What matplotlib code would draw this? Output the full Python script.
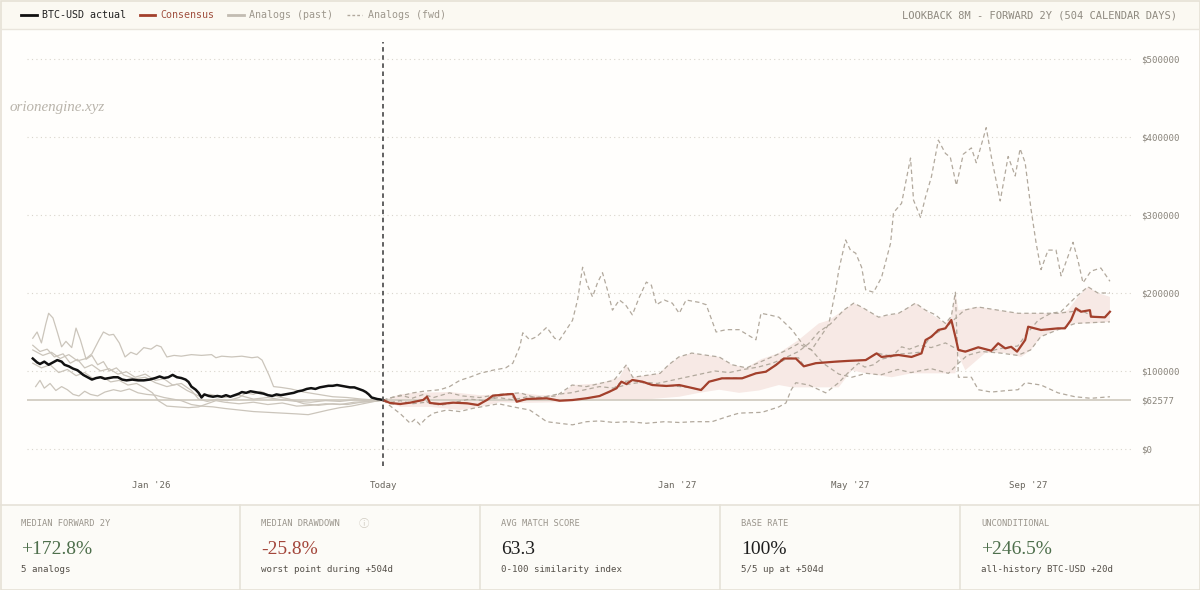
import numpy as np
import matplotlib.pyplot as plt
from matplotlib.lines import Line2D
from matplotlib.patches import Rectangle

# x = days relative to "Today" (11 Jun 2026), y = price in $ thousands
base_px = 62.577

actual_day = [-243, -240, -238, -235, -232, -229, -226, -223, -221, -218, -215, -212, -210, -208, -205,
              -202, -199, -196, -193, -190, -187, -184, -181, -178, -174, -170, -166, -162, -158, -155,
              -152, -149, -146, -143, -140, -137, -135, -133, -130, -128, -126, -124, -121, -118, -115,
              -112, -109, -106, -103, -100, -98, -95, -92, -89, -86, -83, -80, -77, -74, -71, -68, -65,
              -62, -59, -56, -53, -50, -47, -44, -41, -38, -35, -32, -29, -26, -23, -20, -17, -14, -12,
              -10, -8, -6, -4, -2, 0]
actual_px = [116, 111, 109, 112, 108, 111, 114, 112, 108, 106, 103, 101, 98, 95, 92,
             89, 91, 92, 90, 91, 92, 92, 89, 88, 89, 88, 88, 89, 91, 93,
             91, 92, 95, 92, 91, 89, 86, 80, 76, 72, 66, 70, 68, 67, 68,
             67, 69, 67, 69, 71, 73, 72, 74, 73, 72, 71, 69, 68, 70, 69, 70, 71,
             72, 74, 75, 77, 78, 77, 79, 80, 81, 81, 82, 81, 80, 79, 79, 77, 75, 73,
             70, 66, 65, 64, 63.5, 62.577]

past1_day = [-243, -236, -230, -224, -218, -212, -206, -202, -197, -194, -190, -187, -183, -179, -175,
             -171, -166, -161, -157, -154, -150, -145, -140, -133, -126, -119, -116, -112, -105, -98,
             -91, -87, -84, -79, -76, -71, -64, -55, -45, -35, -25, -15, -7, 0]
past1_px = [127, 120, 124, 116, 121, 113, 116, 122, 140, 150, 146, 147, 136, 118, 124,
            121, 130, 128, 133, 131, 118, 120, 119, 121, 120, 121, 117, 119, 118, 119,
            117, 118, 114, 94, 80, 79, 77, 73, 70, 67, 66, 64, 63, 62.577]

past2_day = [-243, -240, -237, -234, -232, -229, -226, -223, -220, -216, -213, -210, -206, -202, -198,
             -194, -190, -185, -180, -172, -165, -158, -150, -143, -136, -128, -120, -110, -100, -90,
             -80, -70, -60, -50, -40, -30, -20, -10, 0]
past2_px = [142, 150, 136, 160, 174, 168, 150, 131, 138, 130, 155, 140, 115, 120, 108,
            112, 100, 104, 95, 90, 92, 85, 80, 83, 75, 68, 70, 66, 69, 64,
            66, 63, 61, 60, 62, 61, 63, 62, 62.577]

past3_day = [-243, -238, -233, -228, -222, -217, -212, -207, -202, -196, -190, -184, -178, -172, -165,
             -158, -152, -146, -140, -133, -128, -122, -115, -108, -100, -95, -90, -85, -80, -73,
             -65, -55, -45, -35, -25, -15, -7, 0]
past3_px = [133, 125, 128, 118, 122, 110, 115, 104, 108, 100, 103, 96, 99, 92, 96,
            88, 90, 82, 84, 75, 64, 61, 64, 62, 66, 72, 70, 74, 70, 67,
            64, 58, 56, 58, 57, 60, 61, 62.577]

past4_day = [-241, -238, -235, -231, -227, -223, -219, -215, -211, -207, -203, -198, -193, -187, -182,
             -176, -170, -164, -158, -152, -146, -140, -133, -126, -118, -110, -100, -90, -80, -70,
             -60, -52, -45, -38, -30, -22, -14, -6, 0]
past4_px = [80, 88, 78, 84, 75, 80, 76, 70, 68, 74, 70, 68, 73, 76, 74,
            77, 72, 70, 69, 66, 64, 62, 57, 55, 54, 52, 50, 48, 47, 46,
            45, 44, 47, 50, 53, 55, 58, 61, 62.577]

past5_day = [-243, -237, -231, -225, -219, -213, -207, -201, -195, -189, -183, -177, -171, -165, -160,
             -156, -150, -143, -135, -128, -122, -116, -110, -100, -90, -80, -70, -60, -50, -40,
             -30, -20, -10, 0]
past5_px = [110, 104, 108, 98, 102, 94, 98, 90, 93, 86, 88, 82, 84, 78, 72,
            62, 55, 54, 53, 54, 58, 62, 60, 58, 60, 57, 59, 55, 56, 58,
            57, 60, 61, 62.577]

fwd1_day = [0, 6, 12, 20, 28, 35, 46, 55, 67, 80, 95, 105, 120, 131, 141, 150, 160, 168.7, 173, 185,
            192, 198, 205, 214, 225, 233, 242, 252, 262, 272, 280, 288, 297, 305.5, 309, 313.8, 316,
            320.7, 324, 327.7, 331.8, 334.6, 340.1, 345.6, 351.9, 353.9, 359.5, 365.7, 367.8, 372.6,
            376.1, 380.2, 385, 389.9, 393.3, 397.5, 402.3, 407.9, 411.3, 418.2, 421.7, 427.9, 433.4,
            438.3, 441.7, 445.2, 449.3, 452.8, 456.2, 461.1, 466.6, 470.1, 478.4, 481.8, 485.3, 490.8,
            497.7, 504]
fwd1_px = [62.577, 66, 69, 65, 70, 66, 72, 68, 66, 70, 72, 66, 68, 82, 80, 84, 88, 108, 92, 95,
           97, 108, 118, 123, 120, 118, 108, 104, 112, 120, 127, 135, 127, 150, 160, 204, 230,
           268, 255, 251, 233, 204, 201, 220, 264, 303, 315, 373, 319, 297,
           323, 349, 396, 379, 374, 338, 378, 386, 367, 412, 375, 318, 375,
           350, 385, 367, 307, 264, 230, 255, 255, 222, 265, 242, 213, 228,
           232, 215]

fwd2_day = [0, 6, 12, 20.7, 28, 39.4, 46, 53.2, 60, 67.1, 76, 85, 89.9, 94.7, 96.8, 101.6, 106.5, 113.4,
            118.9, 122.4, 131.3, 134.8, 138.3, 141.7, 145.2, 148.6, 152.1, 155.5, 159, 163.8, 168,
            172.8, 177.7, 182.5, 186, 189.5, 194.9, 200.5, 205.3, 210.1, 219.1, 224, 230.9, 237.8,
            246.8, 258.5, 262, 267.5, 274.4, 283.4, 290.3, 297, 305, 316, 325, 335, 345, 357, 366,
            380, 392, 399, 405, 415, 428, 440, 449, 456, 468, 480, 491, 504]
fwd2_px = [62.577, 66, 68, 72, 74, 76, 80, 88, 92, 97, 101, 104, 110, 131, 149, 140, 144, 156,
           142, 140, 165, 191, 233, 210, 195, 213, 226, 204, 178, 191, 185,
           172, 195, 214, 210, 185, 191, 187, 174, 191, 188, 185, 150, 153,
           153, 140, 174, 172, 169, 153, 136, 127, 110, 96, 92, 97, 95, 102, 98,
           103, 97, 110, 120, 125, 123, 120, 127, 144, 153, 161, 162, 163]

fwd3_day = [0, 5, 12, 18.7, 22, 25.6, 30, 35, 44.2, 53, 62, 71, 80, 90, 101.6, 108, 113.4, 122, 131.3,
            141, 150, 160, 170, 182.5, 195, 205.3, 215, 228, 237.8, 246.8, 262.7, 274.4, 279.3, 283,
            286.2, 295.2, 306.9, 315.9, 322, 329.7, 334, 340, 345, 352.6, 359.5, 365, 372, 380, 389.9,
            398, 405, 412.7, 421.7, 431, 440, 447.3, 454.2, 463, 470, 480.4, 488.7, 495.6, 504]
fwd3_px = [62.577, 55, 45, 33, 38, 31, 40, 46, 50, 48, 52, 55, 58, 54, 50, 42, 35, 33, 31,
           35, 36, 34, 35, 33, 35, 34, 35, 35, 41, 46, 47, 54, 59, 76,
           85, 82, 72, 85, 97, 110, 105, 108, 115, 118, 131, 128, 133, 130, 136,
           128, 125, 130, 126, 130, 132, 150, 165, 174, 176, 195, 208, 200, 200]

fwd4_day = [0, 6, 12, 20, 30, 40, 50, 60, 70, 80, 90, 100, 110, 120, 130, 140, 150, 160, 170, 180,
            190, 200, 210, 220, 230, 240, 250, 260, 270, 280, 288, 295, 302, 310, 319.4, 326.3, 331.8,
            343.6, 350, 357.4, 363, 369.1, 376.1, 383, 389.9, 394, 396.8, 398.9, 407.9, 412.7, 421.7,
            433, 440.3, 445.2, 456.2, 468, 479.7, 490.8, 504]
fwd4_px = [62.577, 60, 62, 58, 60, 56, 60, 64, 62, 66, 63, 67, 66, 70, 72, 76, 80, 78, 83, 86,
           84, 88, 92, 96, 100, 98, 102, 105, 110, 118, 125, 135, 150, 160, 178, 187, 182,
           169, 172, 174, 180, 187, 178, 172, 161, 170, 201, 92, 92, 76, 73,
           75, 76, 85, 82, 72, 67, 65, 67]

fwd5_day = [0, 5, 12, 18, 28, 33, 40, 50, 60, 66, 72, 80, 88, 93, 100, 113, 122, 132, 141, 150,
            157, 165, 173, 187, 200, 212, 220, 226, 235, 249, 258, 266, 272, 280, 288, 292, 300,
            314, 323, 335, 342, 350, 360, 372, 380, 390, 396, 403, 412.7, 426.5, 440.3, 454.2, 468,
            477, 484, 492, 500, 504]
fwd5_px = [62.577, 58, 57, 60, 63, 58, 57, 59, 58, 56, 63, 68, 70, 61, 64, 65, 62, 63, 65, 68,
           73, 86, 88, 82, 81, 79, 76, 86, 91, 91, 97, 99, 108, 116, 117, 106, 110,
           112, 113, 114, 123, 120, 122, 124, 145, 155, 166, 178, 182, 178, 174, 174, 174,
           176, 178, 170, 169, 176]

cons_day = [0, 4.8, 11.8, 18.7, 27.7, 30.4, 32.5, 39.4, 48.4, 58.1, 65.7, 71.9, 76, 85.7, 89.9, 92.6,
            99.5, 113.4, 122.4, 131.3, 141, 150, 156.9, 161.8, 165.2, 168.7, 172.8, 179.8, 186.7,
            196.3, 205.3, 212.2, 220.5, 226, 235, 248.9, 258.5, 265.4, 272.4, 277.9, 286.2, 291.7,
            300, 313.8, 322.8, 334.6, 342.2, 345.6, 357.4, 366.4, 373.3, 376.1, 380.2, 385, 389.9,
            394, 396.8, 398.9, 403.7, 412.7, 421.7, 426.5, 431.4, 435.5, 439.6, 445.2, 447.3, 456.2,
            468, 472.8, 477, 480.4, 483.9, 490.1, 490.8, 500.5, 504]
cons_px = [62.577, 59, 57.7, 59.4, 62.8, 67, 59, 57.7, 59.4, 58.6, 56.4, 62.8, 68.3, 70.1, 70.5, 60.6,
           64.1, 65, 61.9, 62.8, 65, 67.9, 73.5, 77.8, 86.3, 83.3, 88.5, 86.3, 82,
           80.8, 82, 79.1, 75.6, 86.3, 90.6, 90.6, 97, 99.1, 107.7, 116, 116, 106,
           110, 112, 113, 114, 122.6, 118, 120.5, 118, 122.6, 139.7, 144, 152.6, 154.7,
           165.4, 144, 127, 124.8, 130.4, 126, 135.5, 129, 131, 124.8, 139.7, 156.8, 152.6,
           154.7, 154.7, 165.4, 180.4, 176, 178, 169.6, 168.8, 176]

band_hi_day = [0, 11.8, 20.7, 46.3, 67.1, 80.9, 94.7, 108.5, 122.4, 131.3, 150, 163.8, 168.7, 172.8,
               191.5, 198, 205.3, 214.3, 233, 242, 251.6, 262, 274.4, 288.3, 302.1, 309, 319.4, 326.3,
               331.8, 343.6, 357.4, 369.1, 376.1, 389.9, 394, 396.8, 398.9, 412.7, 426.5, 440.3, 454.2,
               468, 474.9, 481.8, 488.7, 495.6, 504]
band_hi_px = [62.577, 70, 72, 73, 69, 70, 72, 69, 69, 82, 84, 92, 108, 92,
              97, 108, 118, 123, 118, 108, 104, 115, 123, 140, 161, 165, 178, 187,
              182, 169, 174, 187, 178, 161, 170, 201, 178, 182, 178, 174, 174,
              174, 178, 195, 208, 200, 195]

band_lo_day = [0, 11.8, 32.5, 53.2, 67.1, 80.9, 94.7, 122.4, 150, 177.7, 205.3, 219.1, 233, 246.8,
               260.6, 274.4, 283.4, 315.9, 324.9, 334.6, 352.6, 366.4, 392, 396.8, 398.9, 403.7,
               417.5, 431.4, 442.4, 449.3, 456.2, 468, 479.7, 490.8, 504]
band_lo_px = [62.577, 54, 54, 50, 53.8, 60, 59, 60, 62.8, 62.8, 67, 72, 76, 72,
              75, 82, 79, 79, 101, 97, 92, 97, 97, 97, 120, 101,
              123, 123, 118, 127, 144, 153, 161, 161, 163]

y_ticks = [0, 62.577, 100, 200, 300, 400, 500]
y_labels = ['$0', '$62577', '$100000', '$200000', '$300000', '$400000', '$500000']
x_ticks = [-161, 0, 204, 324, 447]
x_labels = ["Jan '26", 'Today', "Jan '27", "May '27", "Sep '27"]

stat_titles = ['MEDIAN FORWARD 2Y', 'MEDIAN DRAWDOWN', 'AVG MATCH SCORE', 'BASE RATE', 'UNCONDITIONAL']
stat_values = ['+172.8%', '-25.8%', '63.3', '100%', '+246.5%']
stat_notes = ['5 analogs', 'worst point during +504d', '0-100 similarity index',
              '5/5 up at +504d', 'all-history BTC-USD +20d']
stat_colors = ['#4e6f4c', '#a3463b', '#1e1e1e', '#1e1e1e', '#4e6f4c']

MONO = 'DejaVu Sans Mono'
SERIF = 'Liberation Serif'
C_RED = '#a3402c'
C_PAST = '#cbc5bb'
C_FWD = '#b2a99d'

W, H = 1200, 590
fig = plt.figure(figsize=(12, 5.9), dpi=100)
fig.patch.set_facecolor('#fffefc')

# header and stats panel backgrounds
fig.add_artist(Rectangle((0, 1 - 29 / H), 1, 29 / H, transform=fig.transFigure,
                         facecolor='#fbf9f2', edgecolor='none', zorder=0))
fig.add_artist(Line2D([0, 1], [1 - 29 / H] * 2, transform=fig.transFigure, color='#e9e5dc', lw=1))
fig.add_artist(Rectangle((0, 0), 1, 85 / H, transform=fig.transFigure,
                         facecolor='#fcfbf7', edgecolor='none', zorder=0))
fig.add_artist(Line2D([0, 1], [85 / H] * 2, transform=fig.transFigure, color='#e6e2d8', lw=1.2))
for i in range(1, 5):
    fig.add_artist(Line2D([i * 240 / W] * 2, [0, 85 / H], transform=fig.transFigure,
                          color='#e6e2d8', lw=1.2))
fig.add_artist(Rectangle((0.5 / W, 0.5 / H), 1 - 1 / W, 1 - 1 / H, transform=fig.transFigure,
                         facecolor='none', edgecolor='#e6e1d6', lw=1.2))

ax = fig.add_axes([27 / W, (590 - 466) / H, (1131 - 27) / W, (466 - 42) / H])
ax.set_facecolor('none')
ax.set_xlim(-247, 518.6)
ax.set_ylim(-21.8, 521.8)

for v in [0, 100, 200, 300, 400, 500]:
    ax.axhline(v, color='#d9d5cc', lw=0.8, ls=(0, (1, 3)), zorder=1)

band_x = np.concatenate([band_hi_day, band_lo_day[::-1]])
band_y = np.concatenate([band_hi_px, band_lo_px[::-1]])
ax.fill(band_x, band_y, color='#f7e9e5', lw=0, zorder=2)
ax.axhline(base_px, color='#d2cdc2', lw=1.3, zorder=3)

for d, p in [(past1_day, past1_px), (past2_day, past2_px), (past3_day, past3_px),
             (past4_day, past4_px), (past5_day, past5_px)]:
    ax.plot(d, p, color=C_PAST, lw=0.9, zorder=4)
for d, p in [(fwd1_day, fwd1_px), (fwd2_day, fwd2_px), (fwd3_day, fwd3_px),
             (fwd4_day, fwd4_px), (fwd5_day, fwd5_px)]:
    ax.plot(d, p, color=C_FWD, lw=0.9, ls=(0, (3.5, 2.5)), zorder=5)

ax.plot(actual_day, actual_px, color='#111111', lw=1.8, zorder=6)
ax.plot(cons_day, cons_px, color=C_RED, lw=1.6, zorder=7)
ax.axvline(0, color='#555555', lw=1.3, ls=(0, (2.5, 2)), zorder=8)

for s in ax.spines.values():
    s.set_visible(False)
ax.yaxis.tick_right()
ax.set_yticks(y_ticks)
ax.set_yticklabels(y_labels)
ax.set_xticks(x_ticks)
ax.set_xticklabels(x_labels)
ax.tick_params(axis='y', length=0, pad=7, labelsize=6.6, labelcolor='#8a857c')
ax.tick_params(axis='x', length=0, pad=11, labelsize=6.6, labelcolor='#6b675f')
for lab in ax.get_xticklabels() + ax.get_yticklabels():
    lab.set_family(MONO)

fig.text(10 / W, 1 - 108 / H, 'orionengine.xyz', family=SERIF, style='italic',
         fontsize=10.8, color='#b9b4ab', va='center')

# legend in header
handles = [Line2D([], [], color='#111111', lw=2),
           Line2D([], [], color=C_RED, lw=2),
           Line2D([], [], color='#c2bcb2', lw=2),
           Line2D([], [], color=C_FWD, lw=1, ls=(0, (2, 1.5)))]
leg = fig.legend(handles, ['BTC-USD actual', 'Consensus', 'Analogs (past)', 'Analogs (fwd)'],
                 loc='center left', bbox_to_anchor=(21 / W, 1 - 15 / H), ncol=4, frameon=False,
                 handlelength=1.55, handletextpad=0.55, columnspacing=1.35, borderpad=0,
                 borderaxespad=0, prop={'family': MONO, 'size': 7.2})
for t, c in zip(leg.get_texts(), ['#222222', '#a0503f', '#9e988d', '#9e988d']):
    t.set_color(c)

fig.text(1177 / W, 1 - 15 / H, 'LOOKBACK 8M - FORWARD 2Y (504 CALENDAR DAYS)', family=MONO,
         fontsize=7.5, color='#8f8a80', ha='right', va='center')

# stats strip
for i in range(5):
    x0 = (i * 240 + 21) / W
    fig.text(x0, 1 - 524 / H, stat_titles[i], family=MONO, fontsize=6.3, color='#9a958c', va='center')
    fig.text(x0, 1 - 554 / H, stat_values[i], family=SERIF, fontsize=14, color=stat_colors[i],
             va='baseline')
    fig.text(x0, 1 - 570 / H, stat_notes[i], family=MONO, fontsize=6.6, color='#555049', va='center')
fig.text(364 / W, 1 - 524 / H, '\u24d8', family=['DejaVu Sans', 'Noto Sans CJK SC', 'Noto Sans'],
         fontsize=7.5, color='#cfcac0', ha='center', va='center')

fig.savefig('out.png', dpi=100, facecolor=fig.get_facecolor())
